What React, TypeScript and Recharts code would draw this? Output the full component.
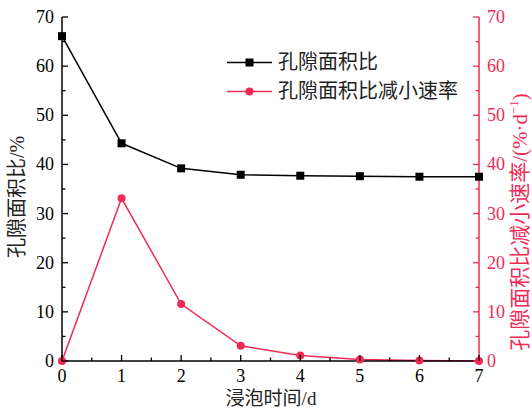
import { LineChart, Line, XAxis, YAxis, Legend, Label } from "recharts";

const days = [0, 1, 2, 3, 4, 5, 6, 7];
const areaRatio = [66.1, 44.3, 39.2, 37.9, 37.7, 37.6, 37.5, 37.5];
const reductionRate = [0, 33.1, 11.6, 3.1, 1.1, 0.3, 0.1, 0];
const yTicks = [0, 5, 10, 15, 20, 25, 30, 35, 40, 45, 50, 55, 60, 65, 70];
const xTicks = [0, 0.5, 1, 1.5, 2, 2.5, 3, 3.5, 4, 4.5, 5, 5.5, 6, 6.5, 7];

const PINK = "#f02a55";
const FONT = "'Liberation Serif', 'Noto Sans CJK SC', serif";

const data = days.map((d, i) => ({ day: d, ratio: areaRatio[i], rate: reductionRate[i] }));

const LeftTick = ({ x, y, payload }: any) => {
    const major = payload.value % 10 === 0;
    return (
        <g>
            <line x1={x} x2={x + (major ? 6 : 3.5)} y1={y} y2={y} stroke="#000" strokeWidth={1.3} />
            {major && (
                <text x={x - 8} y={y} textAnchor="end" dominantBaseline="central" fontSize={18} fill="#000">
                    {payload.value}
                </text>
            )}
        </g>
    );
};

const RightTick = ({ x, y, payload }: any) => {
    const major = payload.value % 10 === 0;
    return (
        <g>
            <line x1={x} x2={x - (major ? 6 : 3.5)} y1={y} y2={y} stroke={PINK} strokeWidth={1.3} />
            {major && (
                <text x={x + 8} y={y} textAnchor="start" dominantBaseline="central" fontSize={18} fill={PINK}>
                    {payload.value}
                </text>
            )}
        </g>
    );
};

const BottomTick = ({ x, y, payload }: any) => {
    const major = payload.value % 1 === 0;
    return (
        <g>
            <line x1={x} x2={x} y1={y} y2={y - (major ? 6 : 3.5)} stroke="#000" strokeWidth={1.3} />
            {major && (
                <text x={x} y={y + 15} textAnchor="middle" dominantBaseline="central" fontSize={18} fill="#000">
                    {payload.value}
                </text>
            )}
        </g>
    );
};

const SquareDot = ({ cx, cy, index }: any) => (
    <rect key={`sq-${index}`} x={cx - 4} y={cy - 4} width={8} height={8} fill="#000" />
);

const LegendBox = () => (
    <div style={{ fontFamily: FONT, fontSize: 20, color: "#222", lineHeight: "29px" }}>
        <div style={{ display: "flex", alignItems: "center" }}>
            <svg width={51} height={29}>
                <line x1={0} x2={45} y1={14.5} y2={14.5} stroke="#000" strokeWidth={1.5} />
                <rect x={18.5} y={10.5} width={8} height={8} fill="#000" />
            </svg>
            <span>孔隙面积比</span>
        </div>
        <div style={{ display: "flex", alignItems: "center" }}>
            <svg width={51} height={29}>
                <line x1={0} x2={45} y1={14.5} y2={14.5} stroke={PINK} strokeWidth={1.5} />
                <circle cx={22.5} cy={14.5} r={4} fill={PINK} />
            </svg>
            <span>孔隙面积比减小速率</span>
        </div>
    </div>
);

export default function App() {
    return (
        <div style={{ position: "absolute", left: 0, top: 0, width: 532, height: 413, background: "#fff", fontFamily: FONT }}>
            <LineChart width={532} height={413} data={data} margin={{ top: 17, right: 0, bottom: 0, left: 0 }}>
                <XAxis
                    dataKey="day"
                    type="number"
                    domain={[0, 7]}
                    ticks={xTicks}
                    interval={0}
                    height={52}
                    tickSize={0}
                    tickMargin={0}
                    tickLine={false}
                    axisLine={{ stroke: "#000", strokeWidth: 1.5 }}
                    tick={<BottomTick />}
                >
                    <Label
                        content={() => (
                            <text x={271} y={398} textAnchor="middle" dominantBaseline="central" fontSize={19} fill="#222" fontFamily={FONT}>
                                浸泡时间/d
                            </text>
                        )}
                    />
                </XAxis>
                <YAxis
                    yAxisId="left"
                    domain={[0, 70]}
                    ticks={yTicks}
                    interval={0}
                    width={62}
                    tickSize={0}
                    tickMargin={0}
                    tickLine={false}
                    axisLine={{ stroke: "#000", strokeWidth: 1.5 }}
                    tick={<LeftTick />}
                >
                    <Label
                        content={() => (
                            <text x={17} y={197} transform="rotate(-90 17 197)" textAnchor="middle" dominantBaseline="central" fontSize={20} fill="#222" fontFamily={FONT}>
                                孔隙面积比/%
                            </text>
                        )}
                    />
                </YAxis>
                <YAxis
                    yAxisId="right"
                    orientation="right"
                    domain={[0, 70]}
                    ticks={yTicks}
                    interval={0}
                    width={53}
                    tickSize={0}
                    tickMargin={0}
                    tickLine={false}
                    axisLine={{ stroke: PINK, strokeWidth: 1.5 }}
                    tick={<RightTick />}
                >
                    <Label
                        content={() => (
                            <text x={520} y={222} transform="rotate(-90 520 222)" textAnchor="middle" dominantBaseline="central" fontSize={21} fill={PINK} fontFamily={FONT}>
                                孔隙面积比减小速率/(%·d
                                <tspan dy={-7} fontSize={13}>−1</tspan>
                                <tspan dy={7}>)</tspan>
                            </text>
                        )}
                    />
                </YAxis>
                <Legend
                    layout="vertical"
                    align="center"
                    verticalAlign="middle"
                    content={<LegendBox />}
                    wrapperStyle={{ left: 227, top: 48, width: 280, height: 60 }}
                />
                <Line
                    yAxisId="left"
                    dataKey="ratio"
                    name="孔隙面积比"
                    stroke="#000"
                    strokeWidth={1.5}
                    dot={<SquareDot />}
                    isAnimationActive={false}
                />
                <Line
                    yAxisId="right"
                    dataKey="rate"
                    name="孔隙面积比减小速率"
                    stroke={PINK}
                    strokeWidth={1.5}
                    dot={{ r: 4, fill: PINK, stroke: PINK, strokeWidth: 0 }}
                    isAnimationActive={false}
                />
            </LineChart>
        </div>
    );
}
